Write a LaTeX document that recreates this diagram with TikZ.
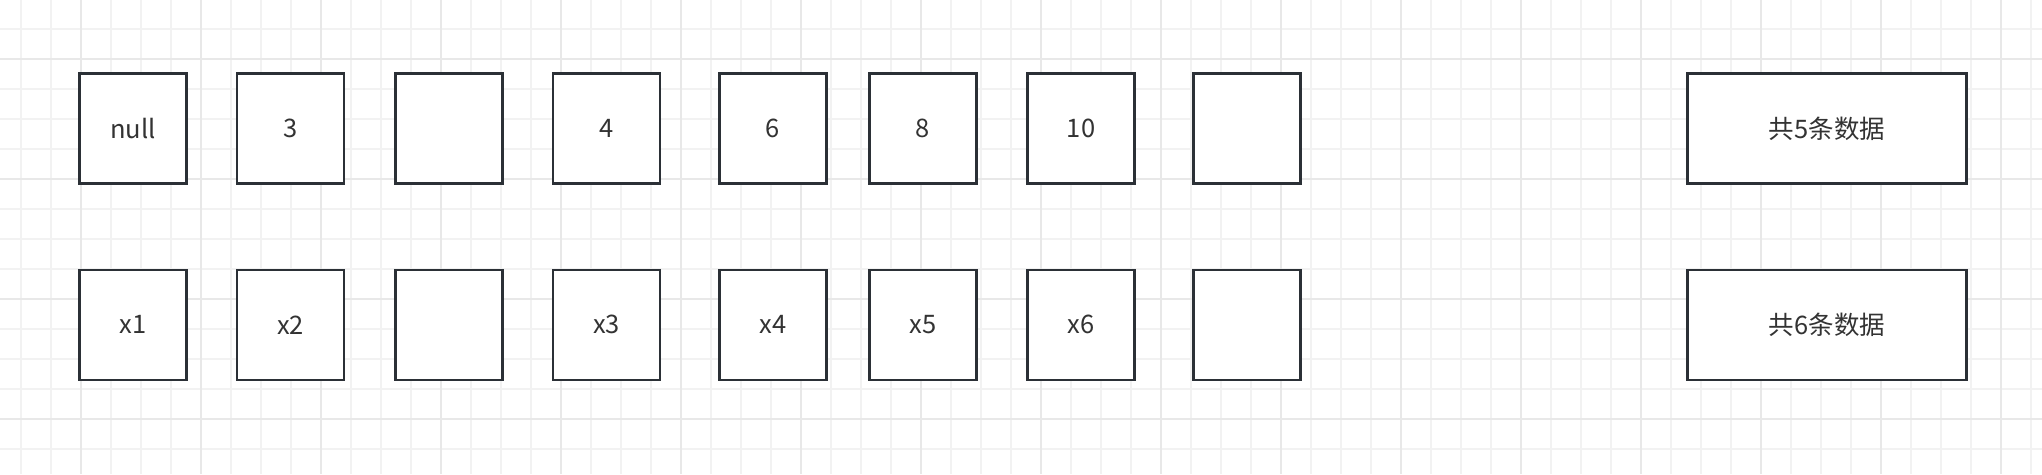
\documentclass[tikz,border=0pt]{standalone}
\usepackage{fontspec}
\setmainfont{Noto Sans CJK SC}
\definecolor{gridminor}{HTML}{F2F2F2}
\definecolor{gridmajor}{HTML}{E8E8E8}
\definecolor{boxline}{HTML}{2B3036}
\definecolor{txt}{HTML}{333333}
\begin{document}
\begin{tikzpicture}[x=1pt,y=-1pt,
  cell/.style={draw=boxline,line width=2.5pt,fill=white,minimum width=107pt,minimum height=110pt,inner sep=0pt,text=txt,font=\fontsize{25.5}{30}\selectfont},
  wide/.style={cell,minimum width=279pt}]
\useasboundingbox (0,0) rectangle (2042,474);
\fill[white] (0,0) rectangle (2042,474);
% minor grid
\foreach \i in {0,...,67} {\draw[gridminor,line width=1.2pt] ({21+30*\i},0) -- ({21+30*\i},474);}
\foreach \j in {0,...,15} {\draw[gridminor,line width=1.2pt] (0,{29+30*\j}) -- (2042,{29+30*\j});}
% major grid
\foreach \i in {0,...,16} {\draw[gridmajor,line width=2pt] ({81+120*\i},0) -- ({81+120*\i},474);}
\foreach \j in {0,...,3} {\draw[gridmajor,line width=2pt] (0,{59+120*\j}) -- (2042,{59+120*\j});}
% top row
\node[cell] (t1) at (133,128.5) {null};
\node[cell] (t2) at (290.5,128.5) {3};
\node[cell] (t3) at (449,128.5) {};
\node[cell] (t4) at (606.5,128.5) {4};
\node[cell] (t5) at (773,128.5) {6};
\node[cell] (t6) at (923,128.5) {8};
\node[cell] (t7) at (1081,128.5) {10};
\node[cell] (t8) at (1247,128.5) {};
\node[wide] (tc) at (1827,128.5) {共5条数据};
% bottom row
\node[cell] (b1) at (133,324.75) {x1};
\node[cell] (b2) at (290.5,324.75) {x2};
\node[cell] (b3) at (449,324.75) {};
\node[cell] (b4) at (606.5,324.75) {x3};
\node[cell] (b5) at (773,324.75) {x4};
\node[cell] (b6) at (923,324.75) {x5};
\node[cell] (b7) at (1081,324.75) {x6};
\node[cell] (b8) at (1247,324.75) {};
\node[wide] (bc) at (1827,324.75) {共6条数据};
\end{tikzpicture}
\end{document}
